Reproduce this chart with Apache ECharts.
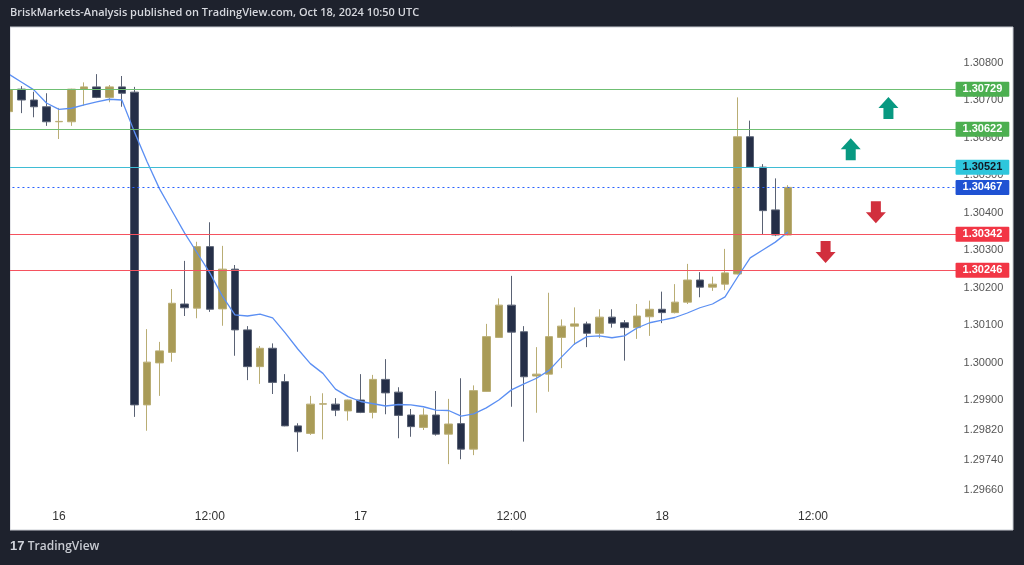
<!DOCTYPE html>
<html>
<head>
<meta charset="utf-8">
<script src="https://cdn.jsdelivr.net/npm/echarts@6/dist/echarts.min.js"></script>
<style>
html,body{margin:0;padding:0;background:#1e222d;}
#chart{width:1024px;height:565px;}
</style>
</head>
<body>
<div id="chart"></div>
<script>
// ---- Data (hourly candles from 2024-10-15 20:00 UTC) ----
const opens = [1.30669,1.30729,1.30700,1.30682,1.30642,1.30642,1.30729,1.30735,1.30707,1.30735,
  1.30721,1.29887,1.29999,1.30027,1.30156,1.30145,1.30309,1.30143,1.30249,1.30087,
  1.29989,1.30038,1.29949,1.29831,1.29811,1.29889,1.29889,1.29871,1.29900,1.29867,
  1.29955,1.29921,1.29860,1.29827,1.29860,1.29809,1.29837,1.29769,1.29923,1.30067,
  1.30153,1.30082,1.29964,1.29969,1.30067,1.30097,1.30103,1.30078,1.30121,1.30106,
  1.30093,1.30122,1.30142,1.30133,1.30161,1.30220,1.30201,1.30209,1.30236,1.30602,
  1.30521,1.30407,1.30340];
const closes = [1.30728,1.30700,1.30682,1.30642,1.30643,1.30729,1.30735,1.30707,1.30735,1.30718,
  1.29887,1.30001,1.30031,1.30158,1.30146,1.30309,1.30142,1.30249,1.30087,1.29989,
  1.30038,1.29947,1.29831,1.29815,1.29889,1.29890,1.29873,1.29900,1.29867,1.29955,
  1.29919,1.29859,1.29829,1.29860,1.29809,1.29836,1.29769,1.29925,1.30069,1.30153,
  1.30081,1.29962,1.29969,1.30069,1.30097,1.30103,1.30078,1.30121,1.30105,1.30093,
  1.30124,1.30142,1.30133,1.30161,1.30220,1.30201,1.30209,1.30239,1.30602,1.30521,
  1.30405,1.30340,1.30467];
const lows = [1.30662,1.30665,1.30654,1.30631,1.30596,1.30631,1.30685,1.30705,1.30694,1.30682,
  1.29855,1.29818,1.29911,1.30002,1.30124,1.30118,1.30135,1.30098,1.30018,1.29953,
  1.29943,1.29916,1.29830,1.29762,1.29807,1.29795,1.29857,1.29845,1.29865,1.29851,
  1.29862,1.29798,1.29802,1.29820,1.29805,1.29729,1.29742,1.29753,1.29922,1.30066,
  1.29882,1.29789,1.29866,1.29922,1.29985,1.30047,1.30041,1.30065,1.30093,1.30005,
  1.30063,1.30071,1.30105,1.30131,1.30156,1.30174,1.30191,1.30193,1.30235,1.30520,
  1.30340,1.30337,1.30339];
const highs = [1.30732,1.30737,1.30722,1.30718,1.30679,1.30730,1.30747,1.30769,1.30740,1.30764,
  1.30735,1.30089,1.30055,1.30196,1.30271,1.30322,1.30374,1.30311,1.30260,1.30097,
  1.30044,1.30051,1.29969,1.29838,1.29911,1.29918,1.29905,1.29901,1.29969,1.29967,
  1.30009,1.29934,1.29876,1.29878,1.29924,1.29903,1.29958,1.29939,1.30103,1.30171,
  1.30231,1.30097,1.30041,1.30186,1.30115,1.30147,1.30109,1.30142,1.30142,1.30113,
  1.30156,1.30165,1.30189,1.30209,1.30263,1.30241,1.30229,1.30303,1.30707,1.30645,
  1.30529,1.30491,1.30473];
const maValues = [1.30769,1.30748,1.30727,1.30692,1.30675,1.30678,1.30687,1.30695,1.30702,1.30700,
  1.30615,1.30536,1.30463,1.30404,1.30345,1.30292,1.30239,1.30177,1.30127,1.30124,
  1.30129,1.30119,1.30079,1.30036,1.29997,1.29971,1.29929,1.29909,1.29896,1.29890,
  1.29884,1.29888,1.29887,1.29882,1.29873,1.29872,1.29857,1.29863,1.29879,1.29900,
  1.29927,1.29943,1.29958,1.29979,1.30015,1.30049,1.30069,1.30071,1.30066,1.30071,
  1.30092,1.30106,1.30113,1.30120,1.30132,1.30146,1.30156,1.30175,1.30228,1.30279,
  1.30300,1.30321,1.30348];
const yTickValues = [1.29660,1.29740,1.29820,1.29900,1.30000,1.30100,1.30200,1.30300,1.30400,1.30500,1.30600,1.30700,1.30800];
const xTickIndex = [4,16,28,40,52,64];
const xTickLabels = ['16','12:00','17','12:00','18','12:00'];
const levelValues = [1.30729,1.30622,1.30521,1.30467,1.30342,1.30246];
const upArrows = [[70,1.30679],[67,1.30569]];      // [hour index, price]
const downArrows = [[69,1.30401],[65,1.30295]];

// ---- categories: hourly slots ----
const totalSlots = 76;
const categories = [];
const t0 = Date.UTC(2024,9,15,20,0,0);
for (let i = 0; i < totalSlots; i++) {
  const d = new Date(t0 + i*3600000);
  categories.push(d.toISOString().slice(0,16).replace('T',' '));
}
const candleData = opens.map((o,i)=>[o, closes[i], lows[i], highs[i]]);

// ---- styles ----
const levelStyles = [
  {line:'#6fbf73', bg:'#4caf50', fg:'#ffffff', type:'solid'},
  {line:'#6fbf73', bg:'#4caf50', fg:'#ffffff', type:'solid'},
  {line:'#3fbcd4', bg:'#2ec6dc', fg:'#131722', type:'solid'},
  {line:'#2962ff', bg:'#1f52d3', fg:'#ffffff', type:[2,3]},
  {line:'#f5525f', bg:'#f23645', fg:'#ffffff', type:'solid'},
  {line:'#f5525f', bg:'#f23645', fg:'#ffffff', type:'solid'}
];
const UP_PATH = 'path://M10 0 L20 11 L15 11 L15 22 L5 22 L5 11 L0 11 Z';
const DOWN_PATH = 'path://M5 0 L15 0 L15 11 L20 11 L10 22 L0 11 L5 11 Z';

const levelSeries = levelValues.map((v,i)=>({
  type: 'line',
  data: [],
  silent: true,
  z: 2,
  markLine: {
    silent: true,
    precision: 5,
    symbol: ['none','none'],
    animation: false,
    lineStyle: {color: levelStyles[i].line, width: 1, type: levelStyles[i].type, opacity: 1},
    label: {
      show: true,
      position: 'end',
      distance: -2,
      formatter: () => v.toFixed(5),
      backgroundColor: levelStyles[i].bg,
      color: levelStyles[i].fg,
      fontSize: 11,
      fontWeight: 'bold',
      fontFamily: 'Liberation Sans, Arial, sans-serif',
      padding: [2,7,2,7],
      borderRadius: 1
    },
    emphasis: {disabled: true},
    data: [{yAxis: v}]
  }
}));

const chart = echarts.init(document.getElementById('chart'), null, {renderer:'canvas'});
const option = {
  animation: false,
  backgroundColor: '#1e222d',
  grid: {left: 2.45, top: 28, width: 955.1, bottom: 57, containLabel: false},
  xAxis: {
    type: 'category',
    data: categories,
    boundaryGap: true,
    axisLine: {show:false},
    axisTick: {show:false},
    splitLine: {show:false},
    axisLabel: {
      interval: (idx) => xTickIndex.indexOf(idx) >= 0,
      formatter: (v, idx) => { const k = xTickIndex.indexOf(idx); return k >= 0 ? xTickLabels[k] : ''; },
      color: '#333333',
      fontSize: 12,
      fontFamily: 'Liberation Sans, Arial, sans-serif',
      margin: 3
    }
  },
  yAxis: {
    type: 'value',
    position: 'right',
    min: 1.29612,
    max: 1.30892,
    axisLine: {show:false},
    axisTick: {show:false},
    splitLine: {show:false},
    axisLabel: {
      customValues: yTickValues,
      formatter: (v) => v.toFixed(5),
      color: '#555555',
      fontSize: 11,
      fontFamily: 'Liberation Sans, Arial, sans-serif',
      margin: 6
    }
  },
  graphic: [
    {type:'rect', z:-10, shape:{x:10, y:27, width:1003, height:503}, style:{fill:'#ffffff', stroke:'#c9ccd3', lineWidth:1}},
    {type:'rect', z:100, shape:{x:0, y:27, width:10, height:504}, style:{fill:'#1e222d'}},
    {type:'text', z:100, left:10, top:7, style:{text:'BriskMarkets-Analysis published on TradingView.com, Oct 18, 2024 10:50 UTC', fill:'#d6d8de', font:'600 11px "Open Sans", sans-serif'}},
    {type:'text', z:100, left:10, top:540, style:{
      text:'{l|17} {t|TradingView}',
      rich:{
        l:{fill:'#d1d4dc', fontSize:13, fontWeight:'bold', fontFamily:'Liberation Sans, Arial, sans-serif'},
        t:{fill:'#c8cbd2', fontSize:12, fontWeight:600, fontFamily:'"Open Sans", sans-serif'}
      }
    }}
  ],
  series: levelSeries.concat([
    {
      type: 'candlestick',
      data: candleData,
      barWidth: 8,
      clip: true,
      z: 3,
      itemStyle: {
        color: '#a99b57',
        color0: '#252f48',
        borderColor: '#b9ad74',
        borderColor0: '#5a6274',
        borderWidth: 1
      }
    },
    {
      type: 'line',
      data: maValues,
      showSymbol: false,
      symbol: 'none',
      smooth: false,
      lineStyle: {color:'#5b8ff3', width:1.3},
      z: 4,
      markPoint: {
        silent: true,
        animation: false,
        label: {show:false},
        data: upArrows.map(a=>({coord:[categories[a[0]], a[1]], symbol: UP_PATH, symbolSize:[20,22], itemStyle:{color:'#089981'}}))
          .concat(downArrows.map(a=>({coord:[categories[a[0]], a[1]], symbol: DOWN_PATH, symbolSize:[20,22], itemStyle:{color:'#d12f3d'}})))
      }
    }
  ])
};
chart.setOption(option);
</script>
</body>
</html>
